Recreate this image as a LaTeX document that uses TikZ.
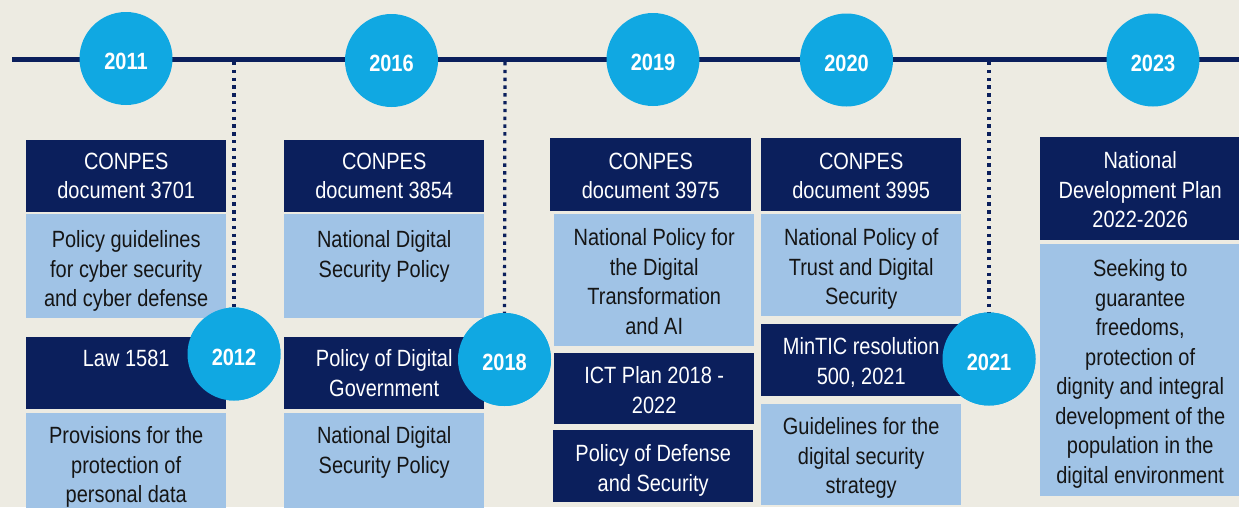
\documentclass[tikz,border=0pt]{standalone}
\usepackage{fontspec}
\setmainfont[FakeStretch=0.85]{Liberation Sans}

\definecolor{paper}{HTML}{EDEBE2}
\definecolor{navy}{HTML}{0B1F5C}
\definecolor{sky}{RGB}{16,168,226}
\definecolor{pale}{RGB}{160,195,230}
\definecolor{ink}{HTML}{151515}

\tikzset{
  boxfont/.style={font=\fontsize{23.5}{29.5}\selectfont},
  darkbox/.style={fill=navy, draw=none, inner sep=0pt, rectangle},
  lightbox/.style={fill=pale, draw=none, inner sep=0pt, rectangle},
  darkboxtext/.style={boxfont, text=white, align=center, inner sep=0pt},
  lightboxtext/.style={boxfont, text=ink, align=center, inner sep=0pt},
  yearball/.style={circle, fill=sky, draw=none, minimum size=93pt, inner sep=0pt,
    text=white, font=\fontsize{23.5}{28}\selectfont\bfseries},
  timeline/.style={navy, line width=5pt},
  dotline/.style={navy, line width=3.2pt, dash pattern=on 3.4pt off 4.4pt},
}

% \tlbox{name}{kind}{x1}{y1}{x2}{y2}{text offset from top}{text}
\newcommand\tlbox[8]{%
  \node[#2, minimum width={#5-#3}, minimum height={#6-#4}, anchor=north west] (#1) at (#3,#4) {};
  \node[#2text, anchor=north] (#1-t) at ([yshift=-#7pt]#1.north) {#8};
}
\newcommand\yearlabel[1]{\raisebox{-3pt}[\height][\depth]{#1}}

\begin{document}
\begin{tikzpicture}[x=1pt, y=-1pt]
  \fill[paper] (0,0) rectangle (1239,507);
  \useasboundingbox (0,0) rectangle (1239,507);

  % main time axis
  \coordinate (axisL) at (12,59.5);
  \coordinate (axisR) at (1239,59.5);
  \draw[timeline] (axisL) -- (axisR);

  % year markers on the axis
  \node[yearball] (y2011) at (126,58.5) {\yearlabel{2011}};
  \node[yearball] (y2016) at (391.5,60.5) {\yearlabel{2016}};
  \node[yearball] (y2019) at (653,59.5) {\yearlabel{2019}};
  \node[yearball] (y2020) at (846.5,60) {\yearlabel{2020}};
  \node[yearball] (y2023) at (1153,60) {\yearlabel{2023}};

  % lower year markers and their dotted drop lines
  \coordinate (d2012) at (234,62);
  \coordinate (d2018) at (505,62);
  \coordinate (d2021) at (989,62);
  \node[yearball] (y2012) at (234,354) {};
  \node[yearball] (y2018) at (504.5,359.5) {};
  \node[yearball] (y2021) at (989,359) {};
  \draw[dotline] (d2012) -- (y2012.north);
  \draw[dotline] (d2018) -- (y2018.north);
  \draw[dotline] (d2021) -- (y2021.north);

  % column 2011 / 2012
  \tlbox{c1a}{darkbox}{26}{140}{226}{212}{12.6}{CONPES\\document 3701}
  \tlbox{c1b}{lightbox}{26}{214}{226}{318}{16.6}{Policy guidelines\\for cyber security\\and cyber defense}
  \tlbox{c1c}{darkbox}{26}{337}{226}{409}{12.6}{Law 1581}
  \tlbox{c1d}{lightbox}{26}{413}{226}{510}{13.6}{Provisions for the\\protection of\\personal data}

  % column 2016 / 2018
  \tlbox{c2a}{darkbox}{284}{140}{484}{212}{12.6}{CONPES\\document 3854}
  \tlbox{c2b}{lightbox}{284}{214}{484}{318}{16.6}{National Digital\\Security Policy}
  \tlbox{c2c}{darkbox}{284}{337}{484}{409}{12.6}{Policy of Digital\\Government}
  \tlbox{c2d}{lightbox}{284}{413}{484}{510}{13.6}{National Digital\\Security Policy}

  % column 2019
  \tlbox{c3a}{darkbox}{550}{138}{751}{211}{14.6}{CONPES\\document 3975}
  \tlbox{c3b}{lightbox}{554}{214}{754}{346}{14.6}{National Policy for\\the Digital\\Transformation\\and AI}
  \tlbox{c3c}{darkbox}{554}{353}{754}{424}{13.6}{ICT Plan 2018 -\\2022}
  \tlbox{c3d}{darkbox}{553}{430}{753}{502}{14.6}{Policy of Defense\\and Security}

  % column 2020 / 2021
  \tlbox{c4a}{darkbox}{761}{138}{961}{211}{14.6}{CONPES\\document 3995}
  \tlbox{c4b}{lightbox}{761}{214}{961}{316}{14.6}{National Policy of\\Trust and Digital\\Security}
  \tlbox{c4c}{darkbox}{761}{324}{961}{396}{13.6}{MinTIC resolution\\500, 2021}
  \tlbox{c4d}{lightbox}{761}{404}{961}{505}{13.6}{Guidelines for the\\digital security\\strategy}

  % column 2023
  \tlbox{c5a}{darkbox}{1040}{137}{1240}{240}{14.6}{National\\Development Plan\\2022-2026}
  \tlbox{c5b}{lightbox}{1040}{244}{1240}{496}{15.6}{Seeking to\\guarantee\\freedoms,\\protection of\\dignity and integral\\development of the\\population in the\\digital environment}

  % lower year markers drawn over the boxes
  \node[yearball] at (y2012) {\yearlabel{2012}};
  \node[yearball] at (y2018) {\yearlabel{2018}};
  \node[yearball] at (y2021) {\yearlabel{2021}};
\end{tikzpicture}
\end{document}
